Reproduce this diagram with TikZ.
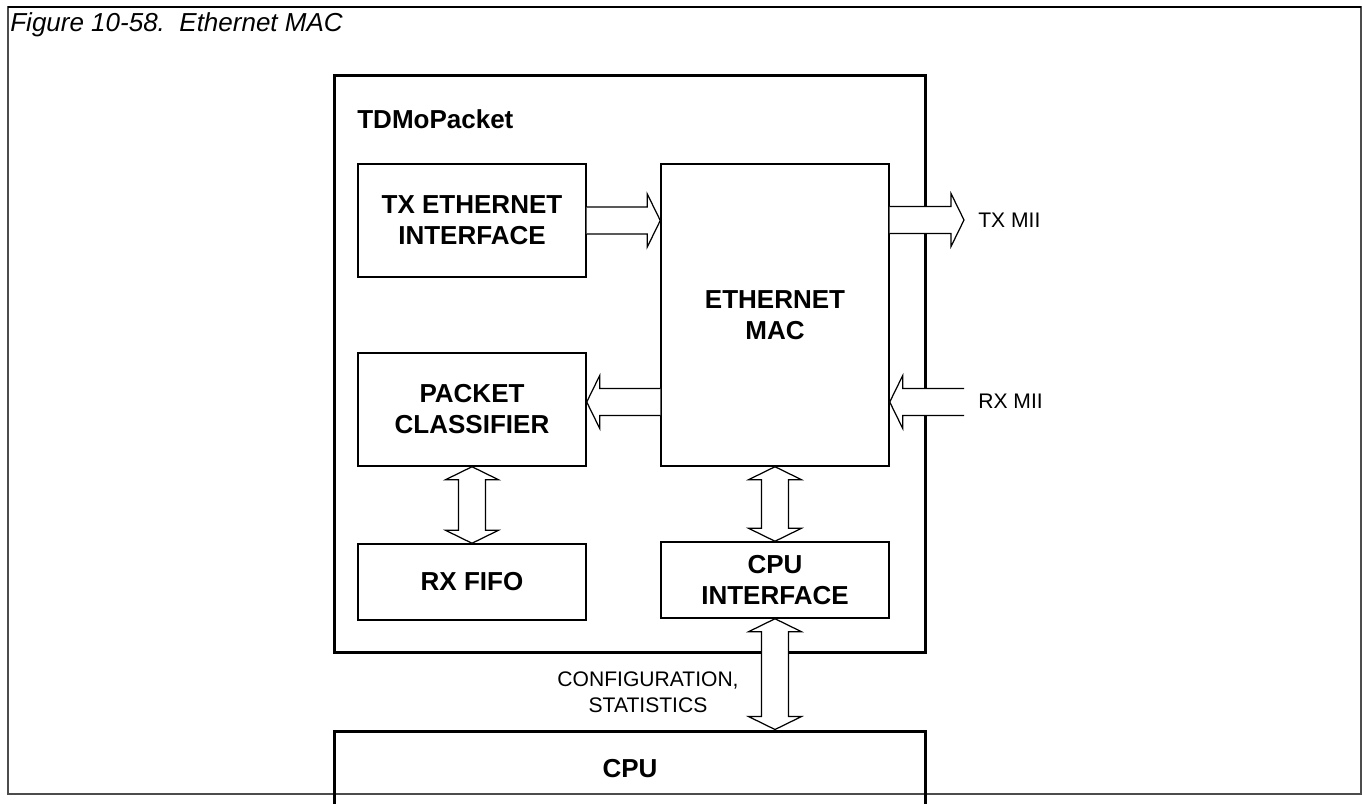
\documentclass[tikz,border=0pt]{standalone}
\usepackage{fontspec}
\setmainfont{Liberation Sans}
\usetikzlibrary{positioning,calc}

\begin{document}
\begin{tikzpicture}[x=0.02cm, y=-0.02cm,
  blk/.style={draw, line width=0.85pt, inner sep=0pt, align=center, minimum width=4.56cm,
    font=\bfseries\fontsize{14.8}{17.6}\selectfont},
  big/.style={blk, line width=1.7pt, minimum width=11.84cm},
  bus/.style={draw, fill=white, line width=0.7pt, line join=miter},
  lbl/.style={inner sep=0pt, font=\fontsize{12}{14.8}\selectfont}]
\clip (0,0) rectangle (1362,804);
% frame and title
\draw[black!70, line width=0.7pt] (8,7) rectangle (1361,794);
\draw[line width=1.2pt] (8,7) -- (1361,7);
\node[anchor=base west, inner sep=0pt, font=\itshape\fontsize{14.8}{17.6}\selectfont] (title) at (10,32) {Figure 10-58.\ \ Ethernet MAC};
% TDMoPacket block
\node[big, minimum height=11.56cm] (tdmo) at (630,364) {};
\node[anchor=base west, inner sep=0pt, font=\bfseries\fontsize{14.8}{17.6}\selectfont] (tdmol) at (357,129) {TDMoPacket};
\node[blk, minimum height=2.26cm] (tx) at (472,220.5) {TX ETHERNET\\INTERFACE};
\node[blk, minimum height=6.04cm] (mac) at (775,315) {ETHERNET\\MAC};
\node[blk, minimum height=2.26cm] (pc) at (472,409.5) {PACKET\\CLASSIFIER};
\node[blk, minimum height=1.52cm] (rxf) at (472,582) {RX FIFO};
\node[blk, minimum height=1.52cm] (cpuif) at (775,580) {CPU\\INTERFACE};
% CPU, cut by the page edge
\node[big, minimum height=1.52cm] (cpu) at (630,769) {CPU};
\coordinate (txmii) at (964,220);
\coordinate (rxmii) at (964,402);
% buses, one way
\foreach \a/\b in {tx.east/mac.west |- tx.east, mac.east |- txmii/txmii, rxmii/mac.east |- rxmii, mac.west |- rxmii/pc.east |- rxmii} {
  \coordinate (hb) at ($(\b)!0.26cm!(\a)$);
  \filldraw[bus] ($(\a)!0.27cm!90:(\b)$) -- ($(hb)!0.27cm!-90:(\a)$) -- ($(hb)!0.53cm!-90:(\a)$) -- (\b)
    -- ($(hb)!0.53cm!90:(\a)$) -- ($(hb)!0.27cm!90:(\a)$) -- ($(\a)!0.27cm!-90:(\b)$);
}
% buses, both ways
\foreach \a/\b in {pc.south/rxf.north, mac.south/cpuif.north, cpuif.south/cpuif.south |- cpu.north} {
  \coordinate (ha) at ($(\a)!0.26cm!(\b)$);
  \coordinate (hb) at ($(\b)!0.26cm!(\a)$);
  \filldraw[bus] (\a) -- ($(ha)!0.53cm!90:(\b)$) -- ($(ha)!0.27cm!90:(\b)$) -- ($(hb)!0.27cm!-90:(\a)$)
    -- ($(hb)!0.53cm!-90:(\a)$) -- (\b) -- ($(hb)!0.53cm!90:(\a)$) -- ($(hb)!0.27cm!90:(\a)$)
    -- ($(ha)!0.27cm!-90:(\b)$) -- ($(ha)!0.53cm!-90:(\b)$) -- cycle;
}
\node[lbl, anchor=west] (txl) at (978,220) {TX MII};
\node[lbl, anchor=west] (rxl) at (978,401) {RX MII};
\node[lbl, align=center] (cfg) at (648,692.5) {CONFIGURATION,\\STATISTICS};
\end{tikzpicture}
\end{document}
